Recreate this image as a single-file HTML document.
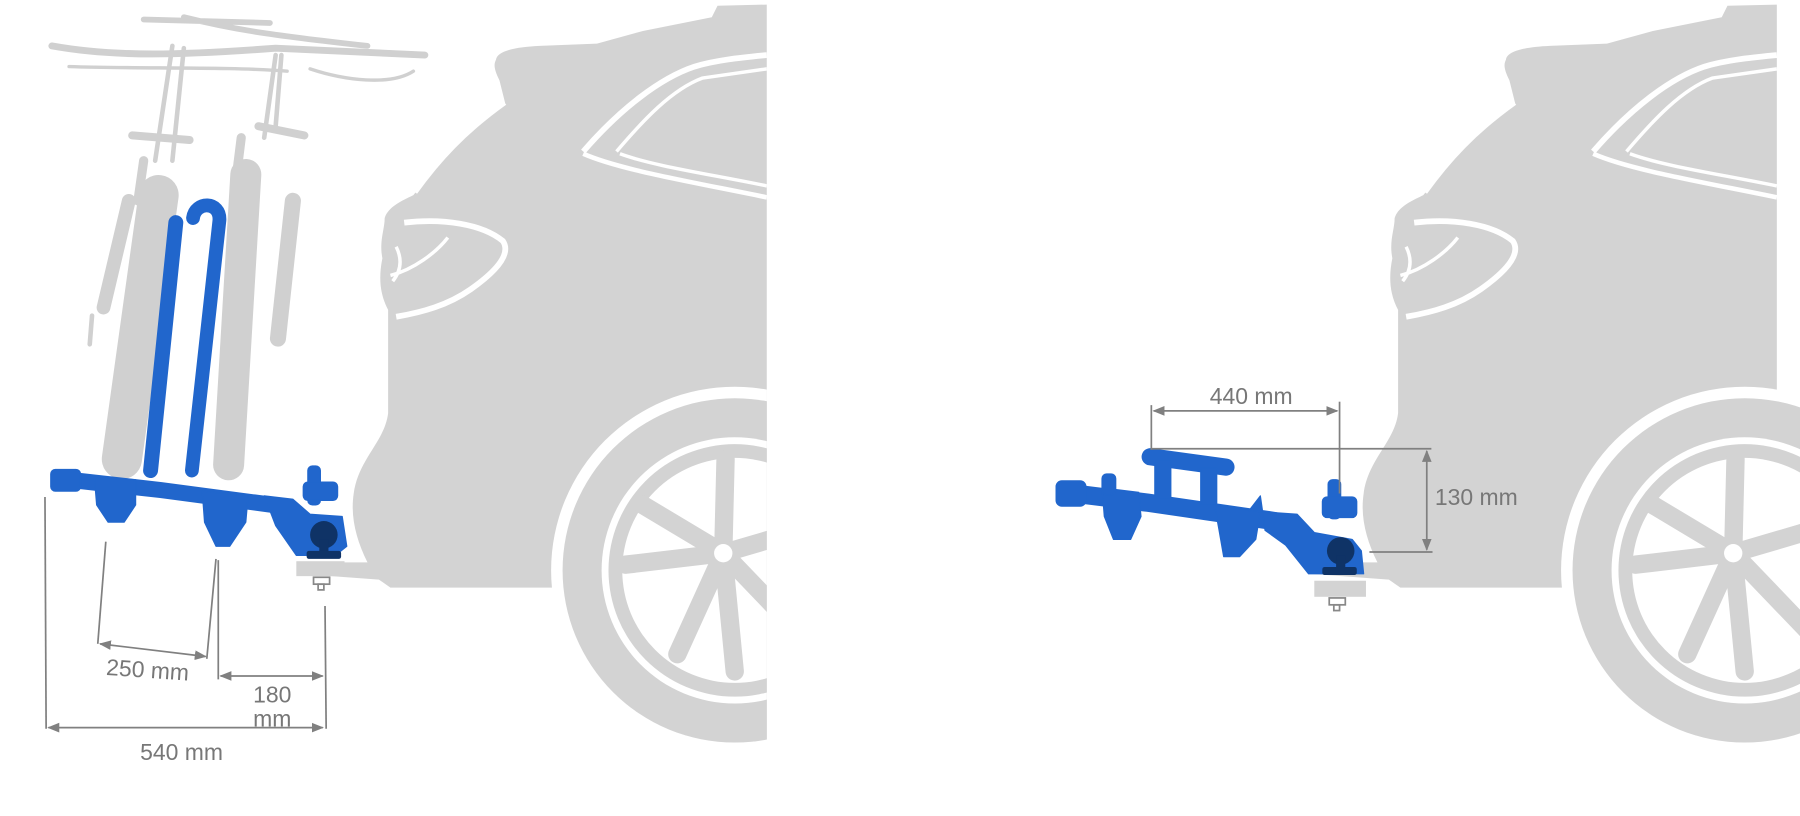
<!DOCTYPE html>
<html><head><style>html,body{margin:0;padding:0;background:#fff}svg{display:block}</style></head>
<body>
<svg width="1800" height="816" viewBox="0 0 1568 711" xmlns="http://www.w3.org/2000/svg">
<defs>
<marker id="a" viewBox="0 0 10 10" refX="9" refY="5" markerWidth="7" markerHeight="7" orient="auto-start-reverse"><path d="M0,1 L10,5 L0,9 Z" fill="#808080"/></marker>
<g id="car">
 <path d="M432,52 C433,44 450,41 470,40 L520,38 L560,27 L620,15 L625,5 L668,4 L668,512 L480,512 L340,512 L330,505 L262,500 L258,490 L320,490 C310,470 305,450 308,430 C312,400 335,385 338,360 L338,310 L338,270 C330,255 330,240 333,225 C330,210 335,200 335,190 C338,180 350,175 360,170 L380,145 C400,120 420,105 440,90 L435,70 C430,60 430,56 432,52 Z" fill="#d3d3d3"/>
 <path d="M440,90 C405,115 382,140 362,168" stroke="#fff" stroke-width="3" fill="none"/>
 <path d="M508,132 C540,95 575,68 605,58 C625,52 648,50 668,48" stroke="#fff" stroke-width="5" fill="none"/>
 <path d="M537,132 C560,105 585,78 612,68 L668,60" stroke="#fff" stroke-width="3" fill="none"/>
 <path d="M508,134 C540,148 600,158 668,172" stroke="#fff" stroke-width="4" fill="none"/>
 <path d="M540,134 C570,145 620,152 668,162" stroke="#fff" stroke-width="3" fill="none"/>
 <path d="M352,194 C385,190 420,195 438,210 C446,222 430,238 410,252 C390,266 368,272 345,276" stroke="#fff" stroke-width="5" fill="none"/>
 <path d="M390,207 C380,220 360,235 340,240 M345,215 C350,225 350,235 342,245" stroke="#fff" stroke-width="3" fill="none"/>
 <circle cx="640" cy="497" r="160" fill="#fff"/>
 <circle cx="640" cy="497" r="150" fill="#d3d3d3"/>
 <circle cx="640" cy="497" r="116" fill="#fff"/>
 <circle cx="640" cy="497" r="110" fill="#d3d3d3"/>
 <circle cx="640" cy="497" r="98" fill="#fff"/>
 <g stroke="#d3d3d3" stroke-width="16" stroke-linecap="round">
  <line x1="630" y1="482" x2="632" y2="400"/>
  <line x1="630" y1="482" x2="560" y2="440"/>
  <line x1="630" y1="482" x2="545" y2="492"/>
  <line x1="630" y1="482" x2="590" y2="570"/>
  <line x1="630" y1="482" x2="640" y2="585"/>
  <line x1="630" y1="482" x2="700" y2="555"/>
  <line x1="630" y1="482" x2="705" y2="460"/>
 </g>
 <circle cx="630" cy="482" r="8" fill="#fff"/>
</g>
<clipPath id="cl"><rect x="0" y="0" width="668" height="711"/></clipPath>
</defs>
<g clip-path="url(#cl)"><use href="#car"/></g>
<g transform="translate(880,0)"><use href="#car"/></g>

<!-- bikes -->
<g stroke="#d0d0d0" fill="none" stroke-linecap="round">
 <path d="M45,40 C100,50 160,48 240,42 L370,48" stroke-width="6"/>
 <path d="M125,17 L235,20 M160,15 C200,25 230,30 320,40" stroke-width="5"/>
 <path d="M60,58 C120,60 200,58 250,62 M270,60 C300,70 340,75 360,62" stroke-width="3"/>
 <path d="M150,40 L135,140 M160,42 L150,140 M240,48 L230,120 M245,48 L240,110" stroke-width="4"/>
 <path d="M225,110 L265,118 M115,118 L165,122" stroke-width="7"/>
 <path d="M125,140 L120,175 M210,120 L205,160" stroke-width="8"/>
 <line x1="112" y1="175" x2="90" y2="268" stroke-width="12"/>
 <line x1="80" y1="275" x2="78" y2="300" stroke-width="4"/>
 <line x1="255" y1="175" x2="242" y2="295" stroke-width="14"/>
 <line x1="138" y1="170" x2="106" y2="400" stroke-width="35"/>
</g>
<g stroke="#2166cc" stroke-linecap="round" fill="none">
 <line x1="153" y1="194" x2="131" y2="410" stroke-width="13"/>
 <path d="M168,190 C170,175 192,175 191,192 L167,410" stroke-width="12"/>
</g>
<g stroke="#d0d0d0" fill="none" stroke-linecap="round">
 <line x1="214" y1="152" x2="199" y2="405" stroke-width="27"/>
</g>

<!-- left rack -->
<g fill="#2166cc" stroke="#2166cc" stroke-linejoin="round">
 <polyline points="60,418 140,427 238,440" fill="none" stroke-width="14" stroke-linecap="round"/>
 <rect x="44" y="409" width="26" height="19" rx="4"/>
 <path d="M82,416 L118,418 L118,440 L108,455 L94,455 L84,440 Z"/>
 <path d="M176,428 L216,432 L214,455 L200,476 L188,476 L178,455 Z"/>
 <path d="M230,432 L255,435 L270,448 L298,450 L302,476 L292,484 L258,484 L240,458 Z"/>
 <rect x="268" y="406" width="11" height="34" rx="4"/>
 <rect x="264" y="420" width="30" height="16" rx="4"/>
</g>
<circle cx="282" cy="466" r="12" fill="#0f3366"/>
<rect x="278" y="470" width="8" height="12" fill="#0f3366"/>
<rect x="267" y="480" width="30" height="7" rx="2" fill="#0f3366"/>
<rect x="258" y="489" width="42" height="13" fill="#d3d3d3"/>
<rect x="273" y="503" width="14" height="6" fill="none" stroke="#888" stroke-width="1.5"/>
<rect x="277" y="509" width="5" height="5" fill="none" stroke="#888" stroke-width="1.5"/>

<!-- right rack -->
<g fill="#2166cc" stroke="#2166cc" stroke-linejoin="round">
 <polyline points="935,430 1000,438 1110,454" fill="none" stroke-width="16" stroke-linecap="round"/>
 <rect x="920" y="419" width="26" height="22" rx="5"/>
 <line x1="1002" y1="398" x2="1068" y2="407" stroke-width="15" stroke-linecap="round"/>
 <rect x="1006" y="402" width="14" height="32"/>
 <rect x="1046" y="408" width="14" height="32"/>
 <path d="M960,425 L992,429 L994,450 L985,470 L970,470 L962,450 Z"/>
 <rect x="960" y="413" width="12" height="18" rx="4"/>
 <path d="M1058,440 L1098,446 L1094,470 L1080,485 L1066,485 L1062,462 Z"/>
 <path d="M1088,445 L1098,432 L1100,446 Z"/>
 <path d="M1100,446 L1130,448 L1145,464 L1178,470 L1186,480 L1188,500 L1140,500 L1120,475 L1102,462 Z"/>
 <rect x="1157" y="418" width="11" height="34" rx="4"/>
 <rect x="1152" y="433" width="30" height="18" rx="4"/>
</g>
<circle cx="1168" cy="480" r="12" fill="#0f3366"/>
<rect x="1164" y="484" width="8" height="12" fill="#0f3366"/>
<rect x="1152" y="494" width="30" height="7" rx="2" fill="#0f3366"/>
<rect x="1145" y="506" width="45" height="14" fill="#d3d3d3"/>
<rect x="1158" y="521" width="14" height="6" fill="none" stroke="#888" stroke-width="1.5"/>
<rect x="1162" y="527" width="5" height="5" fill="none" stroke="#888" stroke-width="1.5"/>

<!-- dimensions -->
<g stroke="#808080" stroke-width="1.5" fill="none">
 <line x1="39" y1="433" x2="40" y2="635"/>
 <line x1="283" y1="528" x2="284" y2="635"/>
 <line x1="42" y1="634" x2="281" y2="634" marker-start="url(#a)" marker-end="url(#a)"/>
 <line x1="92" y1="472" x2="85" y2="561"/>
 <line x1="188" y1="487" x2="180" y2="574"/>
 <line x1="87" y1="561" x2="179" y2="572" marker-start="url(#a)" marker-end="url(#a)"/>
 <line x1="190" y1="488" x2="190" y2="592"/>
 <line x1="192" y1="589" x2="281" y2="589" marker-start="url(#a)" marker-end="url(#a)"/>
 <line x1="1003" y1="353" x2="1003" y2="392"/>
 <line x1="1167" y1="350" x2="1167" y2="430"/>
 <line x1="1005" y1="358" x2="1165" y2="358" marker-start="url(#a)" marker-end="url(#a)"/>
 <line x1="1003" y1="391" x2="1247" y2="391"/>
 <line x1="1193" y1="481" x2="1248" y2="481"/>
 <line x1="1243" y1="393" x2="1243" y2="479" marker-start="url(#a)" marker-end="url(#a)"/>
</g>
<g fill="#777" font-family="Liberation Sans, sans-serif" font-size="20">
 <text x="158" y="662" text-anchor="middle">540 mm</text>
 <text x="92" y="588" transform="rotate(4 92 588)">250 mm</text>
 <text x="237" y="612" text-anchor="middle">180</text>
 <text x="237" y="633" text-anchor="middle">mm</text>
 <text x="1090" y="352" text-anchor="middle">440 mm</text>
 <text x="1250" y="440">130 mm</text>
</g>
</svg>
</body></html>
